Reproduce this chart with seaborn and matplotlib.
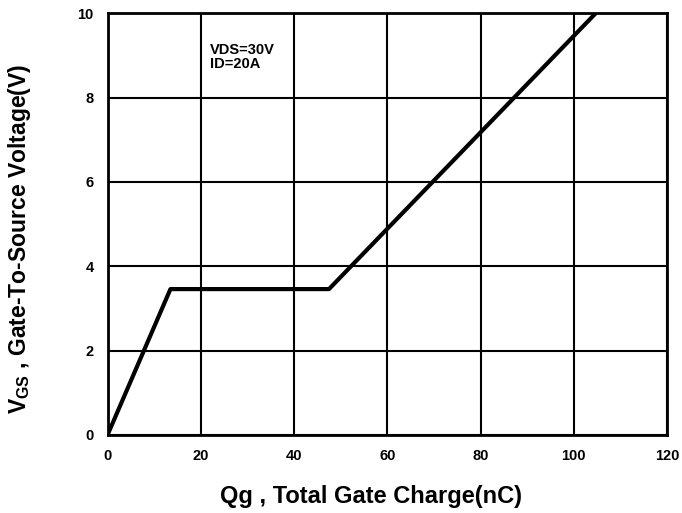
import matplotlib
matplotlib.use("Agg")
import matplotlib.pyplot as plt
import seaborn as sns
import pandas as pd

# Data
qg_nc = [0, 13.5, 47.5, 104.7]
vgs_v = [0, 3.46, 3.46, 10.0]
x_ticks = [0, 20, 40, 60, 80, 100, 120]
y_ticks = [0, 2, 4, 6, 8, 10]
note_text = "VDS=30V\nID=20A"
x_label = "Qg , Total Gate Charge(nC)"
y_label = r"$\mathbf{V}_{\mathbf{GS}}$ , Gate-To-Source Voltage(V)"

sns.set_theme(style="white")
plt.rcParams["font.family"] = ["Liberation Sans", "DejaVu Sans"]
plt.rcParams["font.weight"] = "bold"
plt.rcParams["text.color"] = "black"
plt.rcParams["axes.labelcolor"] = "black"
plt.rcParams["xtick.color"] = "black"
plt.rcParams["ytick.color"] = "black"
plt.rcParams["mathtext.fontset"] = "custom"
plt.rcParams["mathtext.bf"] = "Liberation Sans:bold"
plt.rcParams["mathtext.rm"] = "Liberation Sans:bold"

df = pd.DataFrame({"Qg": qg_nc, "VGS": vgs_v})

fig = plt.figure(figsize=(6.82, 5.13), dpi=100)
ax = fig.add_axes([107.5 / 682, 1 - 435 / 513, (667 - 107.5) / 682, (435 - 13.3) / 513])

sns.lineplot(data=df, x="Qg", y="VGS", ax=ax, color="black", linewidth=3.0,
             sort=False, estimator=None, zorder=5)

ax.set_xlim(0, 120)
ax.set_ylim(0, 10)
ax.set_xticks(x_ticks)
ax.set_yticks(y_ticks)
ax.set_xticklabels([str(t) for t in x_ticks], fontsize=10.5, fontweight="bold")
ax.set_yticklabels([str(t) for t in y_ticks], fontsize=10.5, fontweight="bold")
ax.tick_params(axis="both", length=0, colors="black")
ax.tick_params(axis="x", pad=10)
ax.tick_params(axis="y", pad=10)

ax.grid(True, color="black", linewidth=1.5)
ax.set_axisbelow(True)
for s in ax.spines.values():
    s.set_visible(True)
    s.set_color("black")
    s.set_linewidth(2.0)

ax.text(22.0, 9.3, note_text, fontsize=10.5, fontweight="bold", va="top", ha="left",
        linespacing=1.0, color="black")

ax.set_xlabel(x_label, fontsize=17, fontweight="bold", color="black")
ax.set_ylabel(y_label, fontsize=16.5, fontweight="bold", color="black")
ax.xaxis.label.set_va("center")
ax.yaxis.label.set_va("center")
ax.xaxis.set_label_coords((371.5 - 107.5) / 559.5, (435 - 497) / 421.7)
ax.yaxis.set_label_coords((20 - 107.5) / 559.5, (435 - 238.5) / 421.7)

fig.savefig("out.png", dpi=100)
